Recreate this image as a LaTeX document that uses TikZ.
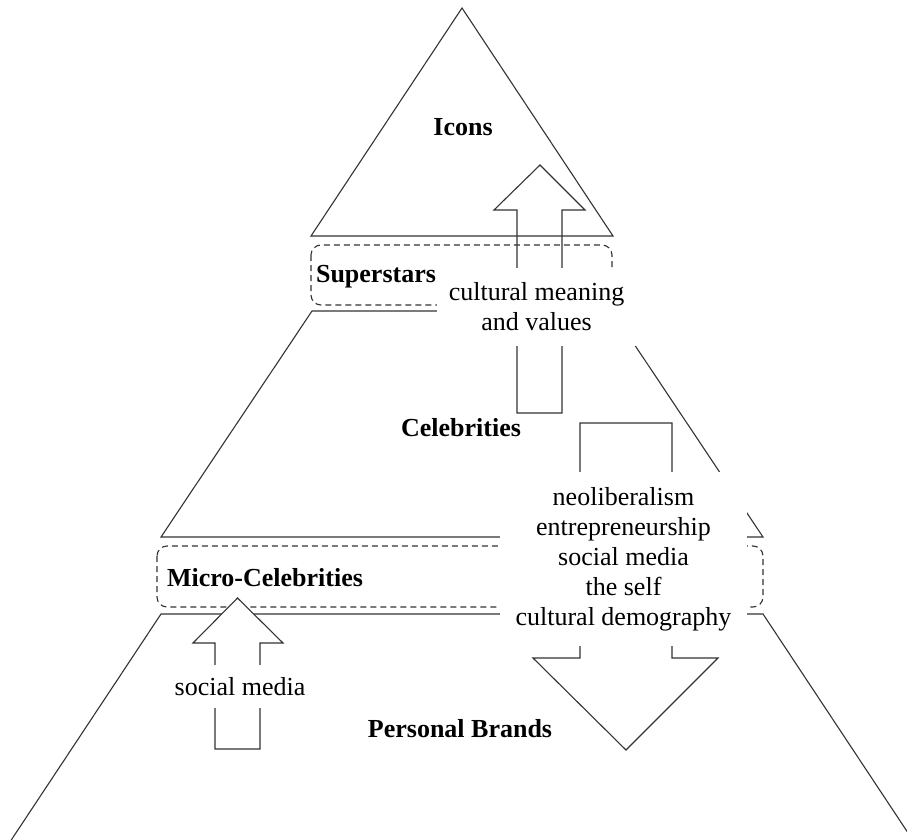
\documentclass[tikz,border=0pt]{standalone}
\usepackage{fontspec}
\setmainfont{Liberation Serif}
\begin{document}
\begin{tikzpicture}[x=1pt,y=-1pt,
  outline/.style={draw=black!80, line width=1.1pt, line join=miter},
  band/.style={draw=black!80, line width=1.1pt, dash pattern=on 6pt off 4pt, rounded corners=10pt},
  bigarrow/.style={draw=black!80, line width=1.1pt},
  tier/.style={font=\fontsize{26}{30}\selectfont\bfseries, inner sep=0pt},
  factor/.style={font=\fontsize{26}{30}\selectfont, fill=white, align=center, inner sep=0pt},
]
\useasboundingbox (0,0) rectangle (907,840);
\clip (0,0) rectangle (907,840);

% pyramid slices
\draw[outline] (462,8) -- (613,236) -- (311,236) -- cycle;
\draw[outline] (312,311) -- (612,311) -- (763,537) -- (161,537) -- cycle;
\draw[outline] (161,614) -- (763,614) -- (926,860) -- (-2,860) -- cycle;

% dashed bands between the slices
\draw[band] (311,245) rectangle (612,305);
\draw[band] (157,546) rectangle (763,607);

% arrows
\draw[bigarrow] (517,413) -- (517,210) -- (494,210) -- (540,165) -- (585,210) -- (562,210) -- (562,413) -- cycle;
\draw[bigarrow, fill=white] (580,423) -- (672,423) -- (672,658) -- (718,658) -- (626,750) -- (533,658) -- (580,658) -- cycle;
\draw[bigarrow, fill=white] (215,749) -- (215,643) -- (193,643) -- (237.5,598) -- (283,643) -- (260,643) -- (260,749) -- cycle;

% driving factors
\node[factor, minimum width=199pt, minimum height=78pt] (meaning) at (536.5,307) {cultural meaning\\and values};
\node[factor, minimum width=247pt, minimum height=174pt] (forces) at (623.5,559) {neoliberalism\\entrepreneurship\\social media\\the self\\cultural demography};
\node[factor, minimum width=150pt, minimum height=43pt] (social) at (240,686.5) {social media};

% tiers
\node[tier] (icons) at (463,127) {Icons};
\node[tier] (superstars) at (376,277) {Superstars};
\node[tier] (celebs) at (461,428) {Celebrities};
\node[tier] (micro) at (265,578) {Micro-Celebrities};
\node[tier] (brands) at (460,729) {Personal Brands};
\end{tikzpicture}
\end{document}
